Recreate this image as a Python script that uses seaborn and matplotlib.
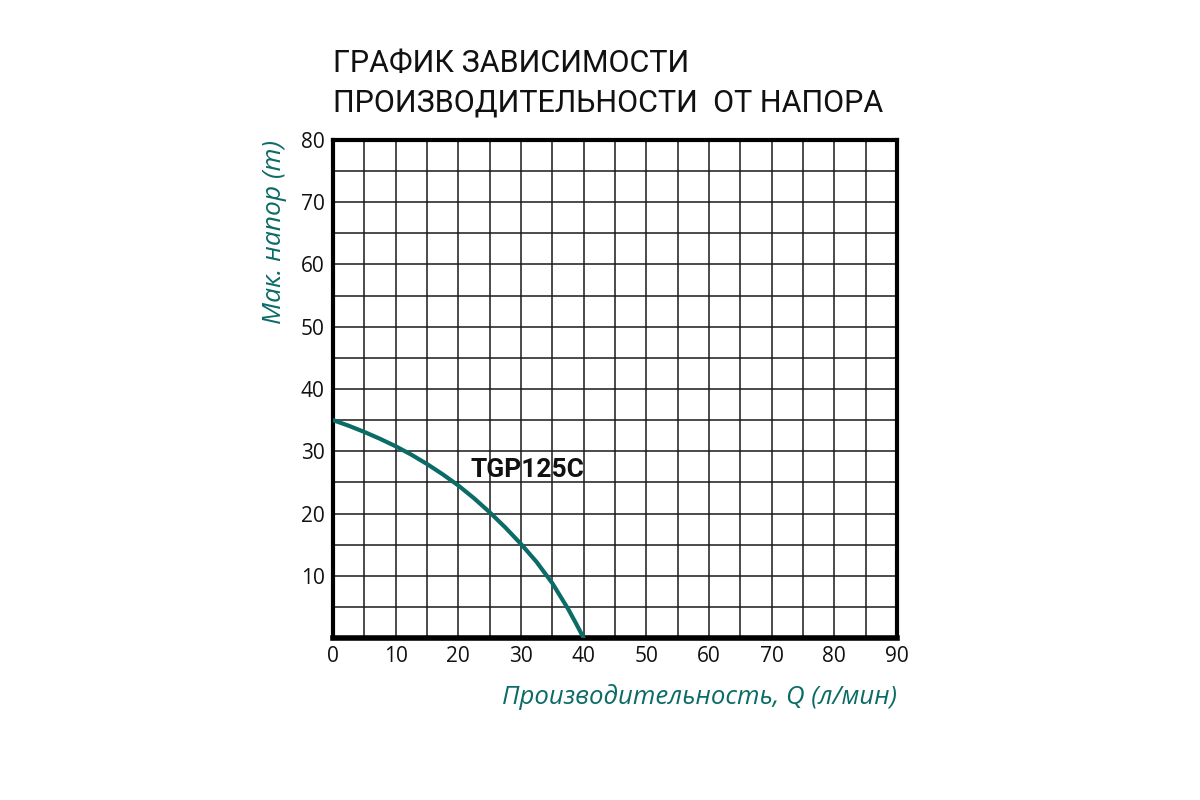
import matplotlib
matplotlib.use('Agg')
import matplotlib.pyplot as plt
import seaborn as sns
import pandas as pd
import numpy as np

# pump curve (every 2.5 l/min)
flow_q = [0, 2.5, 5, 7.5, 10, 12.5, 15, 17.5, 20, 22.5, 25, 27.5, 30, 32.5, 35, 37.5, 38.75, 40]
head_h = [35, 34.1, 33.1, 32.0, 30.8, 29.45, 27.95, 26.3, 24.5, 22.45, 20.2, 17.75, 15.1,
          12.2, 8.8, 4.7, 2.4, 0]
x_ticks = [0, 10, 20, 30, 40, 50, 60, 70, 80, 90]
y_ticks = [10, 20, 30, 40, 50, 60, 70, 80]
model_name = 'TGP125C'

teal = '#0b6b66'

sns.set_theme(style='white')
plt.rcParams['font.family'] = ['Open Sans', 'DejaVu Sans']

df = pd.DataFrame({'Q': flow_q, 'H': head_h})

fig = plt.figure(figsize=(12, 8), dpi=100)
ax = fig.add_axes([0.2775, 0.2025, 0.47, 0.6225])

sns.lineplot(data=df, x='Q', y='H', ax=ax, color=teal, linewidth=3, zorder=3,
             solid_joinstyle='round', solid_capstyle='round')

ax.set_xlim(0, 90)
ax.set_ylim(0, 80)
ax.set_xticks(np.arange(0, 91, 5), minor=True)
ax.set_yticks(np.arange(0, 81, 5), minor=True)
ax.set_xticks(x_ticks)
ax.set_yticks(y_ticks)
ax.grid(True, which='both', color='#1a1a1a', linewidth=1.1)
ax.tick_params(which='both', length=0, labelsize=15, colors='#111111', pad=6)
for s in ax.spines.values():
    s.set_visible(True)
    s.set_color('black')
    s.set_linewidth(3)
ax.spines['bottom'].set_linewidth(4)

ax.set_xlabel('Производительность, Q (л/мин)', fontsize=18.5, style='italic',
              color=teal, loc='right', labelpad=12)
ax.set_ylabel('Мак. напор (m)', fontsize=19, style='italic',
              color=teal, loc='top', labelpad=10)

ax.text(21.9, 27, model_name, fontsize=19, fontweight='bold', family='Roboto',
        color='#111111', va='center', ha='left')

fig.text(0.2775, 0.8956, 'ГРАФИК ЗАВИСИМОСТИ\nПРОИЗВОДИТЕЛЬНОСТИ  ОТ НАПОРА',
         fontsize=22, family='Roboto', fontweight='normal',
         color='#111111', ha='left', va='center', linespacing=1.45)

fig.savefig('out.png', dpi=100, facecolor='white')
